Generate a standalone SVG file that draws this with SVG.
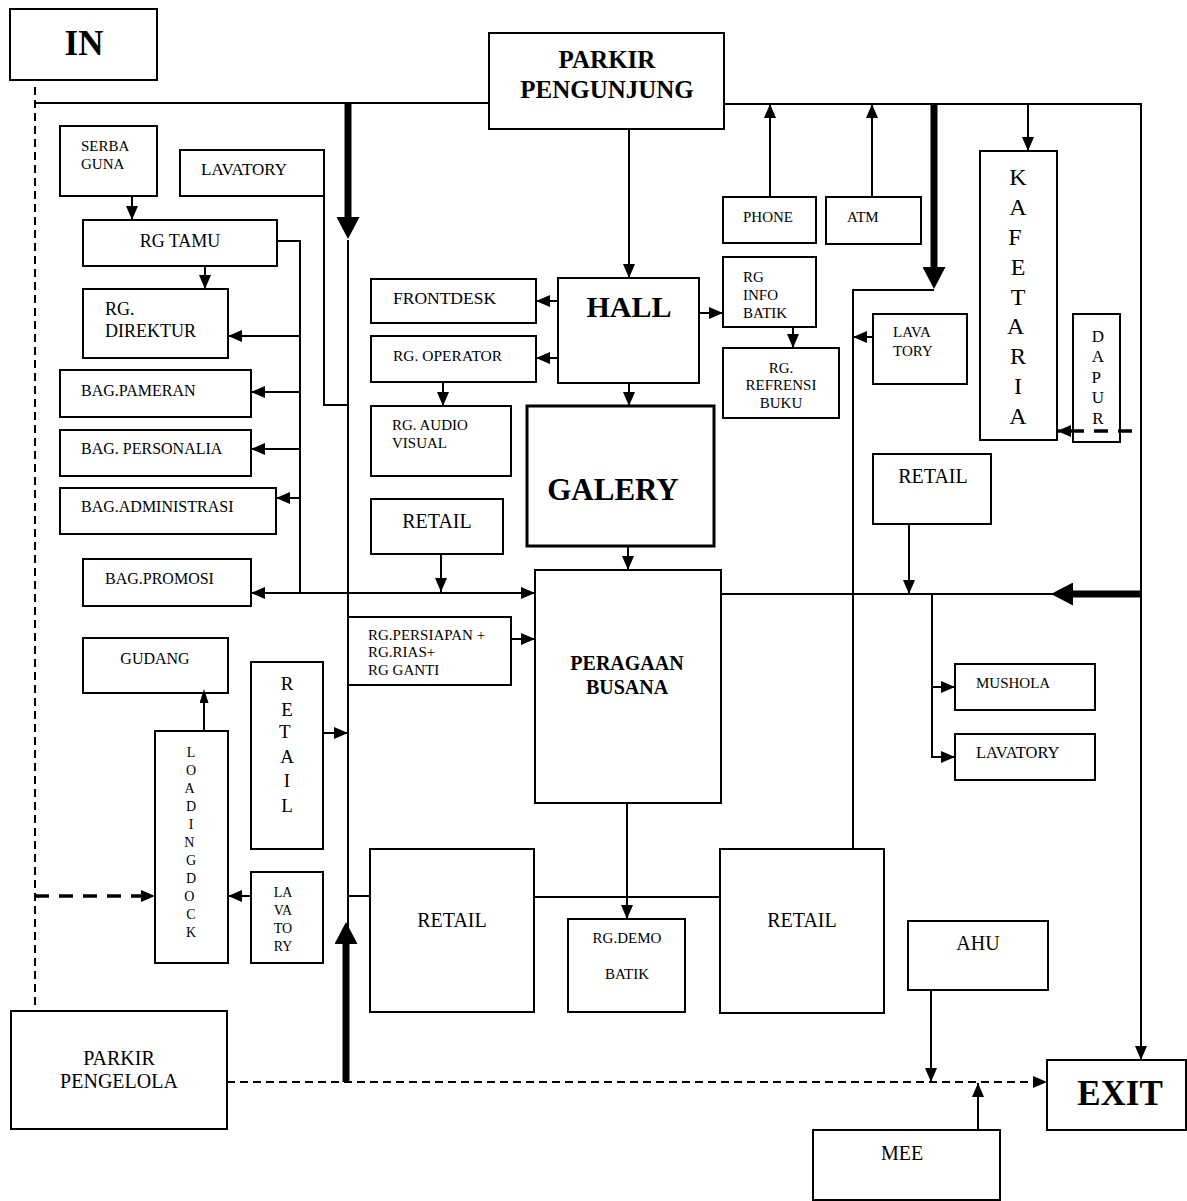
<svg xmlns="http://www.w3.org/2000/svg" width="1187" height="1201" viewBox="0 0 1187 1201">
  <style>
    .box { fill: #fff; stroke: #000; stroke-width: 2; }
    .bold-box { fill: #fff; stroke: #000; stroke-width: 3; }
    .ln { fill: none; stroke: #000; stroke-width: 2; }
    .thick { fill: none; stroke: #000; stroke-width: 7; }
    .dash { fill: none; stroke: #000; stroke-width: 2; stroke-dasharray: 8 5; }
    .dash-thick { fill: none; stroke: #000; stroke-width: 3.5; stroke-dasharray: 14 10; }
    text { font-family: "Liberation Serif", "Times New Roman", serif; fill: #000; }
    .s { font-size: 15px; }
    .m { font-size: 16px; }
    .l { font-size: 20px; }
    .b { font-weight: bold; }
    .c { text-anchor: middle; }
  </style>
  <defs>
    <marker id="ah" viewBox="0 0 14 12" refX="14" refY="6" markerWidth="14" markerHeight="12" markerUnits="userSpaceOnUse" orient="auto-start-reverse">
      <path d="M0,0 L14,6 L0,12 z" fill="#000"/>
    </marker>
    <marker id="ah-small" viewBox="0 0 14 9" refX="10" refY="4.5" markerWidth="14" markerHeight="9" markerUnits="userSpaceOnUse" orient="auto">
      <path d="M0,0 L14,4.5 L0,9 z" fill="#000"/>
    </marker>
    <marker id="ah-big" viewBox="0 0 22 23" refX="1" refY="11.5" markerWidth="22" markerHeight="23" markerUnits="userSpaceOnUse" orient="auto">
      <path d="M0,0 L22,11.5 L0,23 z" fill="#000"/>
    </marker>
  </defs>

  <!-- rooms -->
  <g id="in"><rect class="box" x="10" y="9" width="147" height="71"/><text class="c b" x="84" y="55" font-size="35">IN</text></g>
  <g id="parkir-pengunjung"><rect class="box" x="489" y="33" width="235" height="96"/>
    <text class="c b" x="607" y="68" font-size="25">PARKIR</text>
    <text class="c b" x="607" y="98" font-size="25">PENGUNJUNG</text></g>
  <g id="serba-guna"><rect class="box" x="60" y="126" width="97" height="70"/>
    <text class="s" x="81" y="151">SERBA</text><text class="s" x="81" y="169">GUNA</text></g>
  <g id="lavatory-1"><rect class="box" x="180" y="150" width="144" height="46"/><text x="201" y="175" font-size="17">LAVATORY</text></g>
  <g id="rg-tamu"><rect class="box" x="83" y="220" width="194" height="46"/><text class="c" x="180" y="247" font-size="18">RG TAMU</text></g>
  <g id="rg-direktur"><rect class="box" x="83" y="289" width="145" height="69"/>
    <text x="105" y="315" font-size="18">RG.</text><text x="105" y="337" font-size="18">DIREKTUR</text></g>
  <g id="bag-pameran"><rect class="box" x="60" y="370" width="191" height="47"/><text class="m" x="81" y="396">BAG.PAMERAN</text></g>
  <g id="bag-personalia"><rect class="box" x="60" y="430" width="191" height="46"/><text class="m" x="81" y="454">BAG. PERSONALIA</text></g>
  <g id="bag-administrasi"><rect class="box" x="60" y="488" width="216" height="46"/><text class="m" x="81" y="512">BAG.ADMINISTRASI</text></g>
  <g id="bag-promosi"><rect class="box" x="83" y="559" width="168" height="47"/><text class="m" x="105" y="584">BAG.PROMOSI</text></g>
  <g id="gudang"><rect class="box" x="83" y="638" width="145" height="55"/><text class="m c" x="155" y="664">GUDANG</text></g>
  <g id="loading-dock"><rect class="box" x="155" y="731" width="73" height="232"/>
    <text class="c" font-size="14">
      <tspan x="191" y="757">L</tspan><tspan x="191" y="775">O</tspan><tspan x="191" y="793">A</tspan>
      <tspan x="191" y="811">D</tspan><tspan x="191" y="829">I</tspan><tspan x="191" y="847">N</tspan>
      <tspan x="191" y="865">G</tspan><tspan x="191" y="883">D</tspan><tspan x="191" y="901">O</tspan>
      <tspan x="191" y="919">C</tspan><tspan x="191" y="937">K</tspan>
    </text></g>
  <g id="retail-vertical"><rect class="box" x="251" y="662" width="72" height="187"/>
    <text class="c" font-size="19">
      <tspan x="287" y="690">R</tspan><tspan x="287" y="716">E</tspan><tspan x="287" y="738">T</tspan>
      <tspan x="287" y="763">A</tspan><tspan x="287" y="787">I</tspan><tspan x="287" y="812">L</tspan>
    </text></g>
  <g id="lavatory-2"><rect class="box" x="251" y="872" width="72" height="91"/>
    <text class="c" font-size="14">
      <tspan x="283" y="897">LA</tspan><tspan x="283" y="915">VA</tspan><tspan x="283" y="933">TO</tspan><tspan x="283" y="951">RY</tspan>
    </text></g>
  <g id="parkir-pengelola"><rect class="box" x="11" y="1011" width="216" height="118"/>
    <text class="l c" x="119" y="1065">PARKIR</text><text class="l c" x="119" y="1088">PENGELOLA</text></g>
  <g id="frontdesk"><rect class="box" x="371" y="279" width="165" height="44"/><text x="393" y="304" font-size="17.5">FRONTDESK</text></g>
  <g id="rg-operator"><rect class="box" x="371" y="336" width="165" height="46"/><text x="393" y="361" font-size="15.5">RG. OPERATOR</text></g>
  <g id="hall"><rect class="box" x="558" y="278" width="141" height="105"/><text class="c b" x="629" y="317" font-size="30">HALL</text></g>
  <g id="rg-audio-visual"><rect class="box" x="371" y="406" width="140" height="70"/>
    <text class="s" x="392" y="430">RG. AUDIO</text><text class="s" x="392" y="448">VISUAL</text></g>
  <g id="galery"><rect class="bold-box" x="527" y="406" width="187" height="140"/><text class="c b" x="613" y="500" font-size="31">GALERY</text></g>
  <g id="retail-1"><rect class="box" x="371" y="499" width="132" height="55"/><text class="l c" x="437" y="528">RETAIL</text></g>
  <g id="rg-persiapan"><rect class="box" x="348" y="617" width="163" height="68"/>
    <text class="s" x="368" y="640">RG.PERSIAPAN +</text><text class="s" x="368" y="657">RG.RIAS+</text><text class="s" x="368" y="675">RG  GANTI</text></g>
  <g id="peragaan-busana"><rect class="box" x="535" y="570" width="186" height="233"/>
    <text class="c b" x="627" y="670" font-size="20">PERAGAAN</text><text class="c b" x="627" y="694" font-size="20">BUSANA</text></g>
  <g id="retail-2"><rect class="box" x="370" y="849" width="164" height="163"/><text class="l c" x="452" y="927">RETAIL</text></g>
  <g id="rg-demo-batik"><rect class="box" x="568" y="919" width="117" height="93"/>
    <text class="s c" x="627" y="943">RG.DEMO</text><text class="s c" x="627" y="979">BATIK</text></g>
  <g id="retail-3"><rect class="box" x="720" y="849" width="164" height="164"/><text class="l c" x="802" y="927">RETAIL</text></g>
  <g id="phone"><rect class="box" x="723" y="197" width="93" height="46"/><text class="s" x="743" y="222">PHONE</text></g>
  <g id="atm"><rect class="box" x="826" y="197" width="95" height="47"/><text class="s" x="847" y="222">ATM</text></g>
  <g id="rg-info-batik"><rect class="box" x="723" y="257" width="93" height="70"/>
    <text class="s" x="743" y="282">RG</text><text class="s" x="743" y="300">INFO</text><text class="s" x="743" y="318">BATIK</text></g>
  <g id="rg-refrensi-buku"><rect class="box" x="723" y="348" width="116" height="70"/>
    <text class="s c" x="781" y="373">RG.</text><text class="s c" x="781" y="390">REFRENSI</text><text class="s c" x="781" y="408">BUKU</text></g>
  <g id="lavatory-3"><rect class="box" x="873" y="314" width="94" height="70"/>
    <text class="s" x="893" y="337">LAVA</text><text class="s" x="893" y="356">TORY</text></g>
  <g id="kafetaria"><rect class="box" x="980" y="151" width="77" height="289"/>
    <text class="c" font-size="24">
      <tspan x="1018" y="185">K</tspan><tspan x="1018" y="215">A</tspan><tspan x="1018" y="245">F</tspan>
      <tspan x="1018" y="275">E</tspan><tspan x="1018" y="305">T</tspan><tspan x="1018" y="334">A</tspan>
      <tspan x="1018" y="364">R</tspan><tspan x="1018" y="394">I</tspan><tspan x="1018" y="424">A</tspan>
    </text></g>
  <g id="dapur"><rect class="box" x="1073" y="314" width="47" height="128"/>
    <text class="c" font-size="17">
      <tspan x="1098" y="342">D</tspan><tspan x="1098" y="362">A</tspan><tspan x="1098" y="383">P</tspan>
      <tspan x="1098" y="403">U</tspan><tspan x="1098" y="424">R</tspan>
    </text></g>
  <g id="retail-4"><rect class="box" x="873" y="454" width="118" height="70"/><text class="l c" x="933" y="483">RETAIL</text></g>
  <g id="mushola"><rect class="box" x="955" y="664" width="140" height="46"/><text class="s" x="976" y="688">MUSHOLA</text></g>
  <g id="lavatory-4"><rect class="box" x="955" y="734" width="140" height="46"/><text x="976" y="758" font-size="16.5">LAVATORY</text></g>
  <g id="ahu"><rect class="box" x="908" y="921" width="140" height="69"/><text class="l c" x="978" y="950">AHU</text></g>
  <g id="mee"><rect class="box" x="813" y="1130" width="187" height="70"/><text class="l c" x="902" y="1160">MEE</text></g>
  <g id="exit"><rect class="box" x="1047" y="1060" width="139" height="70"/><text class="c b" x="1120" y="1105" font-size="35">EXIT</text></g>

  <!-- circulation -->
  <g id="connectors">
    <!-- main visitor corridor along the top -->
    <path class="ln" d="M35,103 H489"/>
    <path class="ln" d="M724,104 H1141 V1060" marker-end="url(#ah)"/>
    <path class="ln" d="M629,129 V278" marker-end="url(#ah)"/>
    <path class="ln" d="M770,197 V104" marker-end="url(#ah)"/>
    <path class="ln" d="M872,197 V104" marker-end="url(#ah)"/>
    <path class="ln" d="M1028,104 V151" marker-end="url(#ah)"/>

    <!-- hall distribution -->
    <path class="ln" d="M558,301 H536" marker-end="url(#ah)"/>
    <path class="ln" d="M558,358 H536" marker-end="url(#ah)"/>
    <path class="ln" d="M699,313 H723" marker-end="url(#ah)"/>
    <path class="ln" d="M793,327 V348" marker-end="url(#ah)"/>
    <path class="ln" d="M629,383 V406" marker-end="url(#ah)"/>
    <path class="ln" d="M443,382 V406" marker-end="url(#ah)"/>
    <path class="ln" d="M628,547 V570" marker-end="url(#ah)"/>
    <path class="ln" d="M441,554 V592" marker-end="url(#ah)"/>
    <path class="ln" d="M251,593 H535" marker-start="url(#ah)" marker-end="url(#ah)"/>
    <path class="ln" d="M511,639 H535" marker-end="url(#ah)"/>
    <path class="ln" d="M627,803 V919" marker-end="url(#ah)"/>

    <!-- east side -->
    <path class="ln" d="M721,594 H1141"/>
    <path class="ln" d="M909,525 V594" marker-end="url(#ah)"/>
    <path class="ln" d="M932,594 V757 H955" marker-end="url(#ah)"/>
    <path class="ln" d="M932,687 H955" marker-end="url(#ah)"/>
    <path class="ln" d="M934,290 H853 V849"/>
    <path class="ln" d="M873,337 H853" marker-end="url(#ah)"/>

    <!-- office wing -->
    <path class="ln" d="M132,196 V220" marker-end="url(#ah)"/>
    <path class="ln" d="M205,266 V289" marker-end="url(#ah)"/>
    <path class="ln" d="M277,241 H300 V593"/>
    <path class="ln" d="M300,336 H228" marker-end="url(#ah)"/>
    <path class="ln" d="M300,392 H251" marker-end="url(#ah)"/>
    <path class="ln" d="M300,449 H251" marker-end="url(#ah)"/>
    <path class="ln" d="M300,498 H276" marker-end="url(#ah)"/>
    <path class="ln" d="M324,196 V405 H348"/>
    <path class="ln" d="M348,240 V943"/>
    <path class="ln" d="M323,733 H348" marker-end="url(#ah)"/>
    <path class="ln" d="M348,896 H370"/>
    <path class="ln" d="M534,897 H720"/>

    <!-- service area -->
    <path class="ln" d="M251,896 H228" marker-end="url(#ah)"/>
    <path class="ln" d="M204,731 V693" marker-end="url(#ah-small)"/>
    <path class="ln" d="M931,990 V1082" marker-end="url(#ah)"/>
    <path class="ln" d="M978,1130 V1083" marker-end="url(#ah)"/>

    <!-- dashed service routes -->
    <path class="dash" d="M35,87 V1011"/>
    <path class="dash-thick" d="M35,896 H155" marker-end="url(#ah)"/>
    <path class="dash" d="M227,1082 H1047" stroke-dasharray="9 6" marker-end="url(#ah)"/>
    <path class="dash-thick" d="M1132,431 H1057" stroke-dasharray="14 14" marker-end="url(#ah)"/>

    <!-- main flow arrows -->
    <path class="thick" d="M348,103 V218" marker-end="url(#ah-big)"/>
    <path class="thick" d="M934,104 V268" marker-end="url(#ah-big)"/>
    <path class="thick" d="M1141,594 H1072" marker-end="url(#ah-big)"/>
    <path class="thick" d="M346,1082 V943" marker-end="url(#ah-big)"/>
  </g>
</svg>
